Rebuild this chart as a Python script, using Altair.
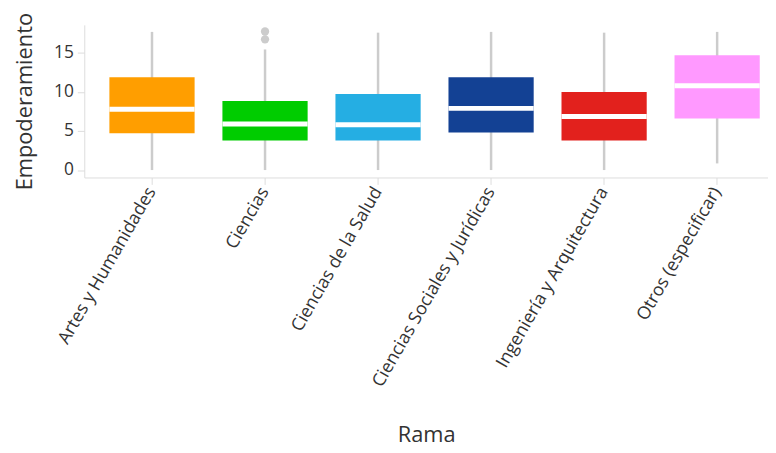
import altair as alt
import pandas as pd

categories = ["Artes y Humanidades", "Ciencias", "Ciencias de la Salud",
              "Ciencias Sociales y Jurídicas", "Ingeniería y Arquitectura",
              "Otros (especificar)"]
lower = [0.0, 0.0, 0.0, 0.0, 0.0, 0.85]
q1 = [4.7, 3.8, 3.8, 4.8, 3.8, 6.6]
median = [7.8, 5.9, 5.8, 7.9, 6.85, 10.8]
q3 = [11.9, 8.85, 9.75, 11.9, 10.0, 14.7]
upper = [17.7, 15.45, 17.6, 17.7, 17.6, 17.7]
colors = ["#FF9E00", "#00CC00", "#25AEE3", "#134194", "#E2211D", "#FF99FF"]

outlier_cat = ["Ciencias", "Ciencias"]
outlier_val = [17.75, 16.75]

df = pd.DataFrame({"Rama": categories, "lower": lower, "q1": q1,
                   "median": median, "q3": q3, "upper": upper})
out = pd.DataFrame({"Rama": outlier_cat, "Empoderamiento": outlier_val})

FONT = "Open Sans"

xenc = alt.X("Rama:N", sort=categories, title="Rama",
             scale=alt.Scale(paddingInner=0.1, paddingOuter=0.0745, align=1),
             axis=alt.Axis(labelAngle=-60, labelFontSize=18, titleFontSize=22,
                           titleFontWeight="normal", labelLimit=400, tickSize=7,
                           titlePadding=49, labelPadding=4, domainColor="#dddddd",
                           tickColor="#dddddd", labelColor="#333333",
                           titleColor="#333333", labelFont=FONT, titleFont=FONT))
yscale = alt.Scale(domain=[-0.95, 18.6], nice=False, zero=False)
yaxis = alt.Axis(values=[0, 5, 10, 15], labelFontSize=17.5, titleFontSize=22,
                 titleFontWeight="normal", tickSize=7, labelPadding=4,
                 grid=False, domainColor="#dddddd", tickColor="#dddddd",
                 labelColor="#333333", titleColor="#333333", labelFont=FONT,
                 titleFont=FONT, titlePadding=17)

base = alt.Chart(df)

whisk = base.mark_rule(color="#cccccc", strokeWidth=2.5).encode(
    x=xenc,
    y=alt.Y("lower:Q", scale=yscale, axis=yaxis, title="Empoderamiento"),
    y2="upper:Q",
)
box = base.mark_bar(size=86).encode(
    x=xenc,
    y=alt.Y("q1:Q", scale=yscale),
    y2="q3:Q",
    color=alt.Color("Rama:N", scale=alt.Scale(domain=categories, range=colors),
                    legend=None),
)
med = base.mark_tick(color="white", size=86, thickness=5, opacity=1).encode(
    x=xenc,
    y=alt.Y("median:Q", scale=yscale),
)
pts = alt.Chart(out).mark_circle(color="#cccccc", size=70, opacity=1).encode(
    x=xenc,
    y=alt.Y("Empoderamiento:Q", scale=yscale),
)

chart = alt.layer(whisk, box, med, pts).properties(
    width=690, height=154,
    padding={"left": 5, "top": 2, "right": 0, "bottom": 0},
).configure_view(stroke=None)

chart.save("out.html", embed_options={"renderer": "svg", "actions": False})
